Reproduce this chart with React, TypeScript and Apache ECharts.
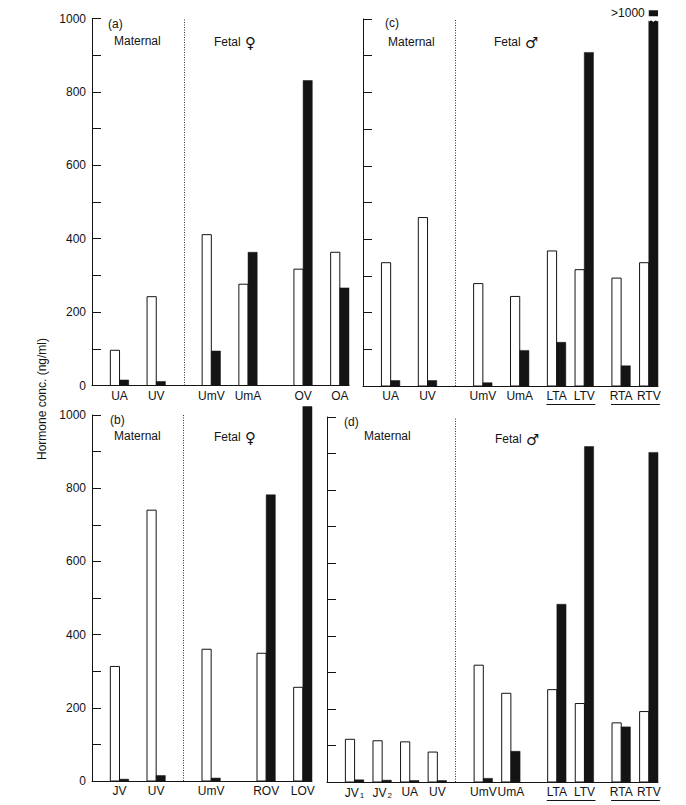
import React, { useEffect, useRef } from 'react';
import * as echarts from 'echarts';

// ---------- data ----------
const aCategories = ['UA', 'UV', 'UmV', 'UmA', 'OV', 'OA'];
const aWhite = [96, 242, 411, 276, 317, 363];
const aBlack = [15, 11, 94, 363, 831, 266];

const bCategories = ['JV', 'UV', 'UmV', 'ROV', 'LOV'];
const bWhite = [313, 740, 360, 349, 256];
const bBlack = [5, 15, 8, 782, 1023];

const cCategories = ['UA', 'UV', 'UmV', 'UmA', 'LTA', 'LTV', 'RTA', 'RTV'];
const cWhite = [336, 459, 279, 244, 368, 317, 294, 336];
const cBlack = [15, 15, 9, 97, 119, 909, 55, 995];

const dCategories = ['JV1', 'JV2', 'UA', 'UV', 'UmV', 'UmA', 'LTA', 'LTV', 'RTA', 'RTV'];
const dWhite = [117, 113, 110, 82, 320, 243, 253, 215, 162, 193];
const dBlack = [6, 5, 4, 4, 10, 84, 487, 919, 151, 903];

const yMax = 1000;
const yStep = 100;
const yLabelStep = 200;
const overflowLabel = '>1000';
const overflowMarkValue = 1016;

const yAxisTitle = 'Hormone conc. (ng/ml)';

// ---------- layout ----------
const FONT = '"Liberation Sans", Arial, Helvetica, sans-serif';
const INK = '#141414';

type Panel = {
  tag: string;
  grid: { left: number; top: number; width: number; height: number };
  span: number;
  pos: number[];
  divider: number;
  cats: string[];
  white: number[];
  black: number[];
  yLabels: boolean;
  underlines: number[][];
  fetal: string;
  overflow: boolean;
  texts: { tag: number[]; maternal: number[]; fetal: number[] };
};

const panels: Panel[] = [
  {
    tag: '(a)',
    grid: { left: 92, top: 18.5, width: 257, height: 367 },
    span: 28,
    pos: [3, 7, 13, 17, 23, 27],
    divider: 10,
    cats: aCategories,
    white: aWhite,
    black: aBlack,
    yLabels: true,
    underlines: [],
    fetal: '\u2640',
    overflow: false,
    texts: { tag: [108, 24], maternal: [114, 41], fetal: [214, 42] },
  },
  {
    tag: '(c)',
    grid: { left: 363, top: 19, width: 295, height: 367 },
    span: 32,
    pos: [3, 7, 13, 17, 21, 24, 28, 31],
    divider: 10,
    cats: cCategories,
    white: cWhite,
    black: cBlack,
    yLabels: false,
    underlines: [[4, 5], [6, 7]],
    fetal: '\u2642',
    overflow: true,
    texts: { tag: [385, 23], maternal: [388, 42], fetal: [494, 42] },
  },
  {
    tag: '(b)',
    grid: { left: 92, top: 415, width: 220, height: 366 },
    span: 24,
    pos: [3, 7, 13, 19, 23],
    divider: 10,
    cats: bCategories,
    white: bWhite,
    black: bBlack,
    yLabels: true,
    underlines: [],
    fetal: '\u2640',
    overflow: false,
    texts: { tag: [110, 420], maternal: [114, 436], fetal: [214, 437] },
  },
  {
    tag: '(d)',
    grid: { left: 327, top: 417, width: 331, height: 365 },
    span: 36,
    pos: [3, 6, 9, 12, 17, 20, 25, 28, 32, 35],
    divider: 14,
    cats: dCategories,
    white: dWhite,
    black: dBlack,
    yLabels: false,
    underlines: [[6, 7], [8, 9]],
    fetal: '\u2642',
    overflow: false,
    texts: { tag: [344, 422], maternal: [364, 436], fetal: [495, 439] },
  },
];

function labelFor(name: string) {
  return name.replace(/^(JV)(\d)$/, '$1{s|$2}');
}

function buildOption() {
  const grids: any[] = [];
  const xAxes: any[] = [];
  const yAxes: any[] = [];
  const series: any[] = [];
  const graphics: any[] = [];

  panels.forEach((p, i) => {
    grids.push({ ...p.grid, containLabel: false });
    xAxes.push({
      gridIndex: i,
      type: 'value',
      min: 0,
      max: p.span,
      axisLine: { show: true, onZero: false, lineStyle: { color: INK, width: 1 } },
      axisTick: { show: false },
      splitLine: { show: false },
      axisLabel: {
        show: true,
        customValues: p.pos,
        margin: 4,
        color: INK,
        fontSize: 12,
        fontFamily: FONT,
        formatter: (v: number) => {
          const k = p.pos.indexOf(v);
          return k >= 0 ? labelFor(p.cats[k]) : '';
        },
        rich: { s: { fontSize: 8, fontFamily: FONT, color: INK, padding: [5, 0, 0, 1] } },
      },
    });
    yAxes.push({
      gridIndex: i,
      type: 'value',
      min: 0,
      max: yMax,
      interval: yStep,
      axisLine: { show: true, lineStyle: { color: INK, width: 1 } },
      axisTick: { show: true, inside: true, length: 9, lineStyle: { color: INK, width: 1 } },
      splitLine: { show: false },
      axisLabel: {
        show: p.yLabels,
        margin: 6,
        color: INK,
        fontSize: 12,
        fontFamily: FONT,
        formatter: (v: number) => (v % yLabelStep === 0 ? String(v) : ''),
      },
    });

    const barRender = (black: boolean) => (params: any, api: any) => {
      const x = api.value(0);
      const v = api.value(1);
      const a = api.coord([black ? x : x - 1, v]);
      const b = api.coord([black ? x + 1 : x, 0]);
      return {
        type: 'rect',
        shape: { x: a[0], y: a[1], width: b[0] - a[0], height: b[1] - a[1] },
        style: black
          ? { fill: INK, stroke: INK, lineWidth: 0.5 }
          : { fill: '#ffffff', stroke: INK, lineWidth: 1 },
      };
    };

    series.push({
      type: 'custom',
      name: p.tag + ' white',
      xAxisIndex: i,
      yAxisIndex: i,
      clip: false,
      renderItem: barRender(false),
      data: p.pos.map((x, k) => [x, p.white[k]]),
      z: 2,
      markLine: {
        silent: true,
        symbol: ['none', 'none'],
        label: { show: false },
        lineStyle: { type: [1, 1.5], color: '#333', width: 1 },
        data: [{ xAxis: p.divider }],
      },
    });

    series.push({
      type: 'custom',
      name: p.tag + ' black',
      xAxisIndex: i,
      yAxisIndex: i,
      clip: false,
      renderItem: barRender(true),
      data: p.pos.map((x, k) => [x, p.black[k]]),
      z: 3,
    });

    if (p.overflow) {
      const last = p.pos[p.pos.length - 1];
      series.push({
        type: 'custom',
        name: p.tag + ' overflow',
        xAxisIndex: i,
        yAxisIndex: i,
        clip: false,
        silent: true,
        z: 4,
        data: [[last, overflowMarkValue]],
        renderItem: (params: any, api: any) => {
          const x = api.value(0);
          const v = api.value(1);
          const a = api.coord([x, v]);
          const b = api.coord([x + 1, v]);
          const top = api.coord([x, yMax]);
          return {
            type: 'group',
            children: [
              {
                type: 'rect',
                shape: { x: a[0], y: a[1] - 3, width: b[0] - a[0], height: 6 },
                style: { fill: INK },
              },
              {
                type: 'polyline',
                shape: {
                  points: [
                    [a[0], top[1] + 2],
                    [a[0] + 2.3, top[1]],
                    [a[0] + 4.6, top[1] + 2],
                    [a[0] + 6.9, top[1]],
                    [b[0], top[1] + 2],
                  ],
                },
                style: { stroke: '#ffffff', lineWidth: 1.5, fill: null },
              },
              {
                type: 'text',
                x: a[0] - 4,
                y: a[1],
                style: {
                  text: overflowLabel,
                  fill: INK,
                  font: `12px ${FONT}`,
                  align: 'right',
                  verticalAlign: 'middle',
                },
              },
            ],
          };
        },
      });
    }

    if (p.underlines.length) {
      series.push({
        type: 'custom',
        name: p.tag + ' underline',
        xAxisIndex: i,
        yAxisIndex: i,
        clip: false,
        silent: true,
        data: p.underlines.map(([s, e]) => [p.pos[s] - 1.1, p.pos[e] + 1.2]),
        renderItem: (params: any, api: any) => {
          const a = api.coord([api.value(0), 0]);
          const b = api.coord([api.value(1), 0]);
          return {
            type: 'line',
            shape: { x1: a[0], y1: a[1] + 18.5, x2: b[0], y2: b[1] + 18.5 },
            style: { stroke: INK, lineWidth: 1 },
          };
        },
      });
    }

    const txt = (s: string, xy: number[]) => ({
      type: 'text',
      x: xy[0],
      y: xy[1],
      style: {
        text: s,
        fill: INK,
        font: `12px ${FONT}`,
        verticalAlign: 'middle',
      },
    });
    graphics.push(txt(p.tag, p.texts.tag));
    graphics.push(txt('Maternal', p.texts.maternal));
    graphics.push(txt('Fetal', p.texts.fetal));
    graphics.push({
      type: 'text',
      x: p.texts.fetal[0] + 31,
      y: p.texts.fetal[1] + 1,
      style: {
        text: p.fetal,
        fill: INK,
        font: `15px "DejaVu Sans", sans-serif`,
        verticalAlign: 'middle',
      },
    });
  });

  graphics.push({
    type: 'text',
    x: 42,
    y: 399,
    rotation: Math.PI / 2,
    style: {
      text: yAxisTitle,
      fill: INK,
      font: `12px ${FONT}`,
      align: 'center',
      verticalAlign: 'middle',
    },
  });

  return {
    animation: false,
    backgroundColor: '#ffffff',
    grid: grids,
    xAxis: xAxes,
    yAxis: yAxes,
    series,
    graphic: graphics,
  };
}

export default function App() {
  const ref = useRef<HTMLDivElement>(null);
  useEffect(() => {
    if (!ref.current) return;
    const chart = echarts.init(ref.current, undefined, { renderer: 'svg' });
    chart.setOption(buildOption() as any);
    return () => chart.dispose();
  }, []);
  return (
    <div
      ref={ref}
      style={{ position: 'absolute', left: 0, top: 0, width: 686, height: 805, background: '#fff' }}
    />
  );
}
